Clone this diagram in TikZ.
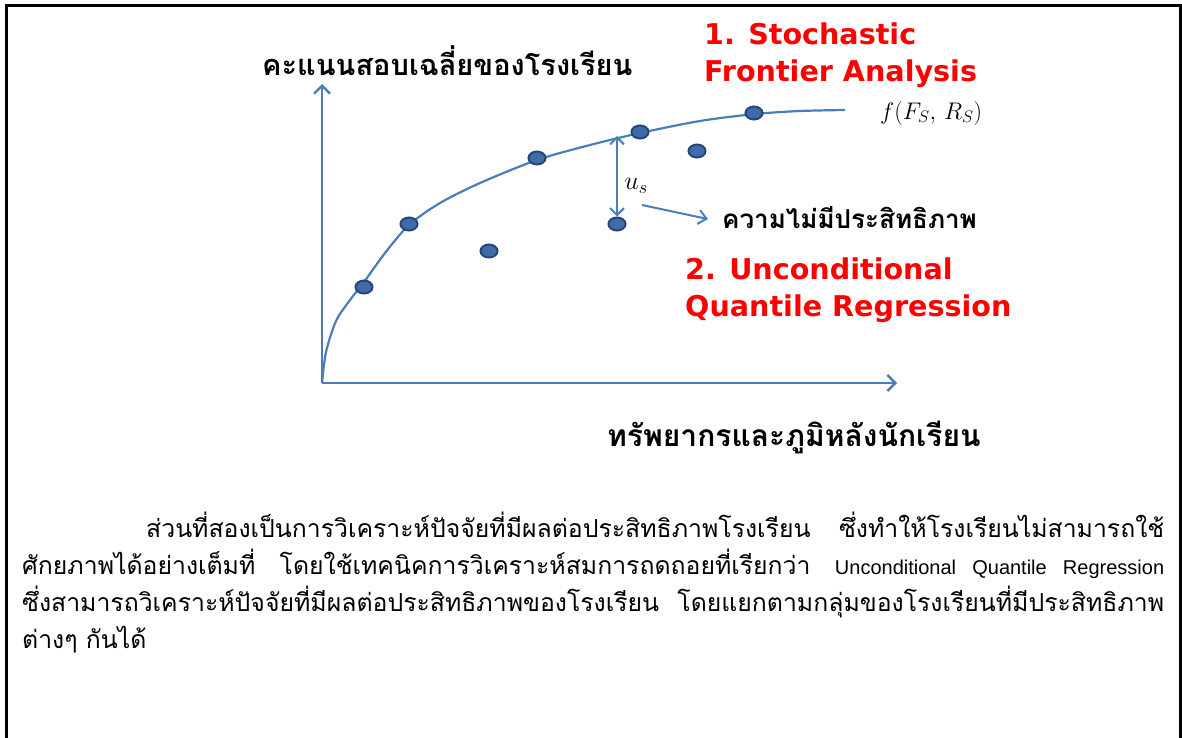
\documentclass[tikz,border=0pt]{standalone}
\usepackage{fix-cm}
\usepackage[no-math]{fontspec}
\setmainfont{Liberation Sans}
\newfontfamily\thaifont[Script=Thai]{Loma}
\newfontfamily\headfont{DejaVu Sans}
\usetikzlibrary{arrows.meta,shapes.geometric}
\definecolor{axisblue}{RGB}{74,126,187}
\definecolor{dotfill}{RGB}{62,108,168}
\definecolor{dotrim}{RGB}{38,70,120}
\definecolor{headred}{RGB}{255,0,0}
\tikzset{
  axis/.style={draw=axisblue, line width=2.6pt,
    -{Straight Barb[length=8pt,width=16pt,line width=2.4pt]}},
  curve/.style={draw=axisblue, line width=2.2pt},
  gap/.style={draw=axisblue, line width=2.2pt,
    {Straight Barb[length=7pt,width=14pt,line width=2pt]}-{Straight Barb[length=7pt,width=14pt,line width=2pt]}},
  pointer/.style={draw=axisblue, line width=2pt,
    -{Straight Barb[length=8pt,width=14pt,line width=2pt]}},
  dot/.style={ellipse, fill=dotfill, draw=dotrim, line width=2pt,
    minimum width=17pt, minimum height=13pt, inner sep=0pt},
  thaibold/.style={inner sep=0pt, anchor=base west,
    font=\thaifont\bfseries\fontsize{26}{30}\selectfont},
  head/.style={inner sep=0pt, anchor=base west, text=headred,
    font=\headfont\bfseries\fontsize{28.6}{32}\selectfont},
  body/.style={inner sep=0pt, anchor=base west,
    font=\thaifont\fontsize{24.8}{28}\selectfont}
}
\begin{document}
\begin{tikzpicture}[x=1pt,y=-1pt]
  \useasboundingbox (0,0) rectangle (1182,737);
  \draw[line width=3pt] (6,745) -- (6,5) -- (1180,5) -- (1180,745);

  \coordinate (O) at (322,383);
  \coordinate (ytop) at (322,84);
  \coordinate (xend) at (897,383);
  \draw[axis] (O) -- (ytop);
  \draw[axis] (O) -- (xend);
  \draw[curve] plot[smooth, tension=0.5] coordinates {(322,383) (326,352) (336,321)
    (350,300) (364,282) (385,253) (409,225) (440,203) (480,183) (537,160)
    (590,145) (640,133) (700,121) (755,114) (800,111) (845,110)};
  \foreach \px/\py [count=\i] in {364/287,409/224,537/158,489/251,640/132,697/151,617/224,754/113}
    \node[dot] (d\i) at (\px,\py) {};

  \coordinate (front) at (617,136);
  \draw[gap] (front) -- (d7.north);
  \node[inner sep=0pt, font=\fontsize{26}{26}\selectfont] (us) at (636,186) {$u_s$};
  \node[thaibold] (ineff) at (722,228) {ความไม่มีประสิทธิภาพ};
  \coordinate (ustail) at (642,205);
  \draw[pointer] (ustail) -- ([xshift=-14pt,yshift=-2pt]ineff.west);
  \node[inner sep=0pt, anchor=base west, font=\fontsize{24}{24}\selectfont] (fn) at (880,119) {$f(F_S,\,R_S)$};

  \node[thaibold, font=\thaifont\bfseries\fontsize{29}{32}\selectfont] (ylab) at (262,75) {คะแนนสอบเฉลี่ยของโรงเรียน};
  \node[thaibold, font=\thaifont\bfseries\fontsize{30}{32}\selectfont] (xlab) at (607,446) {ทรัพยากรและภูมิหลังนักเรียน};

  \node[head] (h1a) at (704,44) {1. Stochastic};
  \node[head] (h1b) at (704,81) {Frontier Analysis};
  \node[head] (h2a) at (685,279) {2. Unconditional};
  \node[head] (h2b) at (685,316) {Quantile Regression};

  \node[body] (p1) at (146,537) {\makebox[1018pt][s]{ส่วนที่สองเป็นการวิเคราะห์ปัจจัยที่มีผลต่อประสิทธิภาพโรงเรียน ซึ่งทำให้โรงเรียนไม่สามารถใช้}};
  \node[body] (p2) at (22,574) {\makebox[1142pt][s]{ศักยภาพได้อย่างเต็มที่ โดยใช้เทคนิคการวิเคราะห์สมการถดถอยที่เรียกว่า {\rmfamily\fontsize{20}{24}\selectfont Unconditional Quantile Regression}}};
  \node[body] (p3) at (22,611) {\makebox[1142pt][s]{ซึ่งสามารถวิเคราะห์ปัจจัยที่มีผลต่อประสิทธิภาพของโรงเรียน โดยแยกตามกลุ่มของโรงเรียนที่มีประสิทธิภาพ}};
  \node[body] (p4) at (22,648) {ต่างๆ กันได้};
\end{tikzpicture}
\end{document}
